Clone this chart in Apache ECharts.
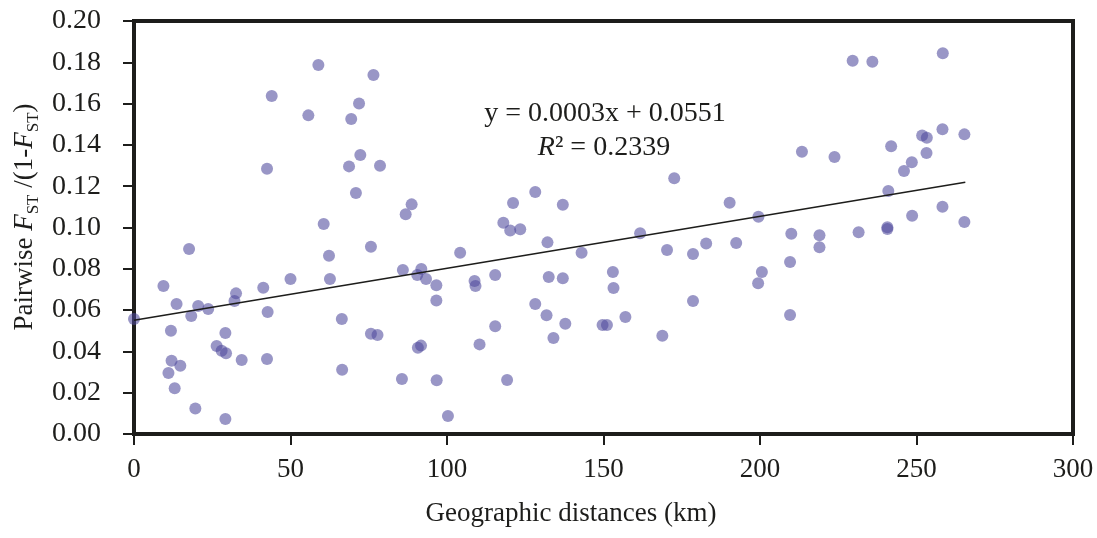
<!DOCTYPE html>
<html>
<head>
<meta charset="utf-8">
<script src="https://cdn.jsdelivr.net/npm/echarts@6/dist/echarts.min.js"></script>
<style>
html,body{margin:0;padding:0;background:#fff;}
#chart{width:1097px;height:538px;}
</style>
</head>
<body>
<div id="chart"></div>
<script>
// Geographic distance (km)
var distKm = [
  0, 9.4, 17.6, 13.6, 11.8, 20.5, 23.7, 18.3, 32.6, 32.1,
  41.3, 50.0, 42.7, 60.6, 62.3, 62.6, 66.4, 29.2, 26.4, 28.0,
  29.4, 12.0, 14.8, 11.0, 34.4, 42.5, 66.5, 13.0, 19.6, 29.2,
  58.9, 44.0, 55.7, 71.9, 69.4, 76.5, 42.5, 72.3, 68.7, 70.9,
  78.6, 88.7, 86.8, 128.2, 121.1, 137.0, 118.0, 120.2, 123.4, 75.7,
  85.9, 91.8, 90.5, 93.3, 96.6, 96.6, 104.2, 108.8, 109.1, 115.4,
  132.1, 143.0, 132.5, 137.0, 128.2, 131.8, 137.8, 134.0, 115.4, 75.7,
  77.8, 90.7, 91.7, 110.4, 85.6, 96.7, 119.2, 100.3, 149.7, 151.1,
  172.6, 190.3, 199.5, 213.4, 223.8, 229.6, 161.7, 170.3, 178.6, 182.8,
  192.4, 210.0, 219.0, 219.0, 209.6, 200.6, 199.4, 153.0, 153.2, 178.6,
  157.0, 168.8, 209.6, 235.9, 258.4, 241.9, 251.8, 253.3, 258.3, 265.3,
  253.2, 248.5, 246.0, 241.0, 258.3, 248.6, 265.3, 231.5, 240.7, 240.7
];
// Pairwise FST/(1-FST)
var fstValue = [
  0.0557, 0.0717, 0.0896, 0.0630, 0.0500, 0.0620, 0.0605, 0.0571, 0.0681, 0.0644,
  0.0708, 0.0751, 0.0591, 0.1017, 0.0863, 0.0751, 0.0557, 0.0489, 0.0426, 0.0403,
  0.0391, 0.0355, 0.0331, 0.0295, 0.0358, 0.0363, 0.0311, 0.0221, 0.0124, 0.0073,
  0.1787, 0.1637, 0.1543, 0.1600, 0.1525, 0.1738, 0.1285, 0.1351, 0.1296, 0.1167,
  0.1299, 0.1112, 0.1064, 0.1172, 0.1119, 0.1110, 0.1023, 0.0985, 0.0991, 0.0907,
  0.0794, 0.0799, 0.0770, 0.0751, 0.0720, 0.0647, 0.0878, 0.0741, 0.0717, 0.0770,
  0.0928, 0.0878, 0.0760, 0.0754, 0.0630, 0.0575, 0.0534, 0.0465, 0.0522, 0.0486,
  0.0479, 0.0418, 0.0428, 0.0434, 0.0266, 0.0260, 0.0262, 0.0087, 0.0528, 0.0528,
  0.1238, 0.1120, 0.1052, 0.1367, 0.1341, 0.1808, 0.0972, 0.0891, 0.0872, 0.0923,
  0.0925, 0.0970, 0.0962, 0.0904, 0.0833, 0.0785, 0.0730, 0.0785, 0.0707, 0.0644,
  0.0567, 0.0476, 0.0576, 0.1803, 0.1844, 0.1393, 0.1446, 0.1435, 0.1476, 0.1451,
  0.1361, 0.1316, 0.1274, 0.1177, 0.1101, 0.1057, 0.1027, 0.0977, 0.1001, 0.0993
];
// Linear trend line end points (as drawn in the reference)
var trendX = [0, 265.6];
var trendY = [0.0551, 0.1219];
var xTicks = [0, 300, 50];      // min, max, interval
var yTicks = [0, 0.20, 0.02];   // min, max, interval
var equationText = 'y = 0.0003x + 0.0551';
var r2Value = '0.2339';

var FONT = '"Liberation Serif", "Times New Roman", serif';
var INK = '#1d1d1b';

var scatterData = distKm.map(function (d, i) { return [d, fstValue[i]]; });
var trendData = trendX.map(function (d, i) { return [d, trendY[i]]; });

var chart = echarts.init(document.getElementById('chart'), null, {renderer: 'canvas'});
chart.setOption({
  animation: false,
  backgroundColor: '#ffffff',
  grid: {
    left: 134, right: 24, top: 21, bottom: 104,
    show: true, borderColor: INK, borderWidth: 4, backgroundColor: 'transparent'
  },
  xAxis: {
    type: 'value', min: xTicks[0], max: xTicks[1], interval: xTicks[2],
    axisLine: {show: true, lineStyle: {color: INK, width: 4}},
    axisTick: {show: true, length: 11, lineStyle: {color: INK, width: 2}},
    axisLabel: {color: INK, fontFamily: FONT, fontSize: 27, margin: 22},
    splitLine: {show: false}
  },
  yAxis: {
    type: 'value', min: yTicks[0], max: yTicks[1], interval: yTicks[2],
    axisLine: {show: true, lineStyle: {color: INK, width: 4}},
    axisTick: {show: true, length: 11, lineStyle: {color: INK, width: 2}},
    axisLabel: {color: INK, fontFamily: FONT, fontSize: 28, margin: 33,
      formatter: function (v) { return v.toFixed(2); }},
    splitLine: {show: false}
  },
  series: [
    {
      type: 'scatter', data: scatterData, symbol: 'circle', symbolSize: 12,
      itemStyle: {color: 'rgba(78,72,156,0.72)'}, z: 2
    },
    {
      type: 'line', data: trendData, symbol: 'none', silent: true,
      lineStyle: {color: INK, width: 1.6}, z: 3
    }
  ],
  graphic: [
    {
      type: 'text', x: 605, y: 114,
      style: {text: equationText, fill: INK, font: '28px ' + FONT,
        align: 'center', verticalAlign: 'middle'}
    },
    {
      type: 'text', x: 604, y: 148,
      style: {
        text: '{i|R}² = ' + r2Value, align: 'center', verticalAlign: 'middle',
        fill: INK, font: '28px ' + FONT,
        rich: {i: {fontStyle: 'italic', fontFamily: FONT, fontSize: 28, fill: INK}}
      }
    },
    {
      type: 'text', x: 571, y: 514,
      style: {text: 'Geographic distances (km)', fill: INK, font: '27px ' + FONT,
        align: 'center', verticalAlign: 'middle'}
    },
    {
      type: 'text', x: 25, y: 217, rotation: Math.PI / 2,
      style: {
        text: 'Pairwise {i|F}{s|ST} /(1-{i|F}{s|ST})',
        align: 'center', verticalAlign: 'middle', fill: INK,
        font: '27px ' + FONT,
        rich: {
          n: {fontFamily: FONT, fontSize: 27, lineHeight: 34, fill: INK},
          i: {fontFamily: FONT, fontStyle: 'italic', fontSize: 27, lineHeight: 34, fill: INK},
          s: {fontFamily: FONT, fontSize: 17, lineHeight: 17, verticalAlign: 'bottom', fill: INK}
        }
      }
    }
  ]
});
</script>
</body>
</html>
